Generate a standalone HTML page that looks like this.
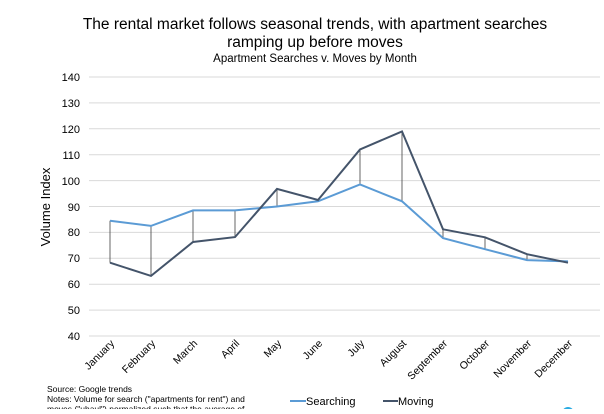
<!DOCTYPE html>
<html><head><style>
body{margin:0;background:#fff;font-family:"Liberation Sans",sans-serif;}
</style></head><body>
<svg width="604" height="409" xmlns="http://www.w3.org/2000/svg" font-family="Liberation Sans, sans-serif">
<text x="315" y="29" font-size="15.5" text-anchor="middle">The rental market follows seasonal trends, with apartment searches</text>
<text x="315" y="47" font-size="15.5" text-anchor="middle">ramping up before moves</text>
<text x="315" y="62" font-size="11.5" text-anchor="middle">Apartment Searches v. Moves by Month</text>
<g stroke="#d9d9d9" stroke-width="1">
<line x1="89" x2="600" y1="77" y2="77"/><line x1="89" x2="600" y1="102.9" y2="102.9"/>
<line x1="89" x2="600" y1="128.8" y2="128.8"/><line x1="89" x2="600" y1="154.7" y2="154.7"/>
<line x1="89" x2="600" y1="180.6" y2="180.6"/><line x1="89" x2="600" y1="206.5" y2="206.5"/>
<line x1="89" x2="600" y1="232.4" y2="232.4"/><line x1="89" x2="600" y1="258.3" y2="258.3"/>
<line x1="89" x2="600" y1="284.2" y2="284.2"/><line x1="89" x2="600" y1="310.1" y2="310.1"/>
<line x1="89" x2="600" y1="336" y2="336"/>
</g>
<g font-size="11" text-anchor="end">
<text x="80" y="81">140</text><text x="80" y="107">130</text><text x="80" y="133">120</text>
<text x="80" y="159">110</text><text x="80" y="185">100</text><text x="80" y="211">90</text>
<text x="80" y="236">80</text><text x="80" y="262">70</text><text x="80" y="288">60</text>
<text x="80" y="314">50</text><text x="80" y="340">40</text>
</g>
<text transform="translate(50,207) rotate(-90)" font-size="13" text-anchor="middle">Volume Index</text>
<g stroke="#404040" stroke-width="0.8">
<line x1="110" y1="220.7" x2="110" y2="262.7"/><line x1="151" y1="225.9" x2="151" y2="275.9"/>
<line x1="193" y1="210.4" x2="193" y2="242"/><line x1="235" y1="210.4" x2="235" y2="237.1"/>
<line x1="277" y1="206.5" x2="277" y2="188.9"/><line x1="318" y1="201.3" x2="318" y2="200"/>
<line x1="360" y1="184.5" x2="360" y2="149.5"/><line x1="402" y1="201.3" x2="402" y2="131.4"/>
<line x1="443" y1="238.1" x2="443" y2="229.3"/><line x1="485" y1="249.2" x2="485" y2="237.3"/>
<line x1="527" y1="260.1" x2="527" y2="254.2"/>
</g>
<polyline fill="none" stroke="#5b9bd5" stroke-width="2" points="110,220.7 151,225.9 193,210.4 235,210.4 277,206.5 318,201.3 360,184.5 402,201.3 443,238.1 485,249.2 527,260.1 568,261.4"/>
<polyline fill="none" stroke="#44546a" stroke-width="2" points="110,262.7 151,275.9 193,242 235,237.1 277,188.9 318,200 360,149.5 402,131.4 443,229.3 485,237.3 527,254.2 568,262.7"/>
<g font-size="10.5" text-anchor="end">
<text transform="translate(115,344) rotate(-45)">January</text>
<text transform="translate(156,344) rotate(-45)">February</text>
<text transform="translate(198,344) rotate(-45)">March</text>
<text transform="translate(240,344) rotate(-45)">April</text>
<text transform="translate(282,344) rotate(-45)">May</text>
<text transform="translate(323,344) rotate(-45)">June</text>
<text transform="translate(365,344) rotate(-45)">July</text>
<text transform="translate(407,344) rotate(-45)">August</text>
<text transform="translate(448,344) rotate(-45)">September</text>
<text transform="translate(490,344) rotate(-45)">October</text>
<text transform="translate(532,344) rotate(-45)">November</text>
<text transform="translate(573,344) rotate(-45)">December</text>
</g>
<text x="47" y="392" font-size="8.5">Source: Google trends</text>
<text x="47" y="402" font-size="8.5">Notes: Volume for search ("apartments for rent") and</text>
<text x="47" y="412" font-size="8.5">moves ("uhaul") normalized such that the average of</text>
<line x1="290" y1="401" x2="306" y2="401" stroke="#5b9bd5" stroke-width="2"/>
<text x="306" y="405" font-size="11">Searching</text>
<line x1="383" y1="401" x2="398" y2="401" stroke="#44546a" stroke-width="2"/>
<text x="398" y="405" font-size="11">Moving</text>
<circle cx="568" cy="413" r="6" fill="#29abe2"/>
</svg>
</body></html>
